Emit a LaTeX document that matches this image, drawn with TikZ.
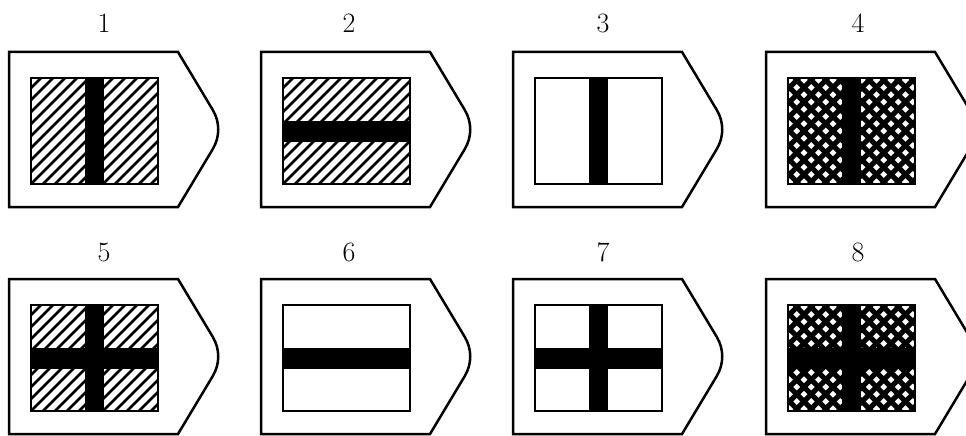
\documentclass[tikz,border=0pt]{standalone}
\usepackage{fontspec}
\tikzset{
  outer/.style={draw=black, line width=2.5pt, line join=miter},
  innerbox/.style={draw=black, line width=2.4pt},
  hatchline/.style={line width=2.8pt},
  crossline/.style={line width=5.2pt},
  lbl/.style={font=\fontsize{28}{32}\selectfont, inner sep=0pt, anchor=center},
}
\newcommand\panelOutline{%
  \draw[outer] (0,0) -- (169,0) -- (203.7,57.8)
    .. controls (211.1,70.2) and (211.1,84.8) .. (203.7,97.2)
    -- (169,155) -- (0,155) -- cycle;}
\newcommand\panelHatch{%
  \begin{scope}
    \clip (22,26) rectangle (149,132);
    \foreach \i in {-120,-108,...,160} {\draw[hatchline] (22+\i,132) -- (128+\i,26);}
  \end{scope}}
\newcommand\panelCross{%
  \begin{scope}
    \clip (22,26) rectangle (149,132);
    \foreach \i in {-124,-109.5,...,160} {
      \draw[crossline] (22+\i,132) -- (128+\i,26);
      \draw[crossline] (22+\i,26) -- (128+\i,132);}
  \end{scope}}
\newcommand\panelVbar{\fill (76,26) rectangle (95,132);}
\newcommand\panelHbar{\fill (22,68.5) rectangle (149,89.5);}
\newcommand\panelBox{\draw[innerbox] (22,26) rectangle (149,132);}
\begin{document}
\begin{tikzpicture}[x=1pt,y=-1pt]
\clip (0,0) rectangle (966,436);
\fill[white] (0,0) rectangle (966,436);
% labels
\node[lbl] (l1) at (104,23) {1};
\node[lbl] (l2) at (349,23) {2};
\node[lbl] (l3) at (603,23) {3};
\node[lbl] (l4) at (858,23) {4};
\node[lbl] (l5) at (104,252) {5};
\node[lbl] (l6) at (349,252) {6};
\node[lbl] (l7) at (603,252) {7};
\node[lbl] (l8) at (858,252) {8};
% row 1
\begin{scope}[shift={(9,52)}]
  \panelOutline \panelHatch \panelVbar \panelBox
\end{scope}
\begin{scope}[shift={(261,52)}]
  \panelOutline \panelHatch \panelHbar \panelBox
\end{scope}
\begin{scope}[shift={(513,52)}]
  \panelOutline \panelVbar \panelBox
\end{scope}
\begin{scope}[shift={(766,52)}]
  \panelOutline \panelCross \panelVbar \panelBox
\end{scope}
% row 2
\begin{scope}[shift={(9,279)}]
  \panelOutline \panelHatch \panelVbar \panelHbar \panelBox
\end{scope}
\begin{scope}[shift={(261,279)}]
  \panelOutline \panelHbar \panelBox
\end{scope}
\begin{scope}[shift={(513,279)}]
  \panelOutline \panelVbar \panelHbar \panelBox
\end{scope}
\begin{scope}[shift={(766,279)}]
  \panelOutline \panelCross \panelVbar \panelHbar \panelBox
\end{scope}
\end{tikzpicture}
\end{document}
